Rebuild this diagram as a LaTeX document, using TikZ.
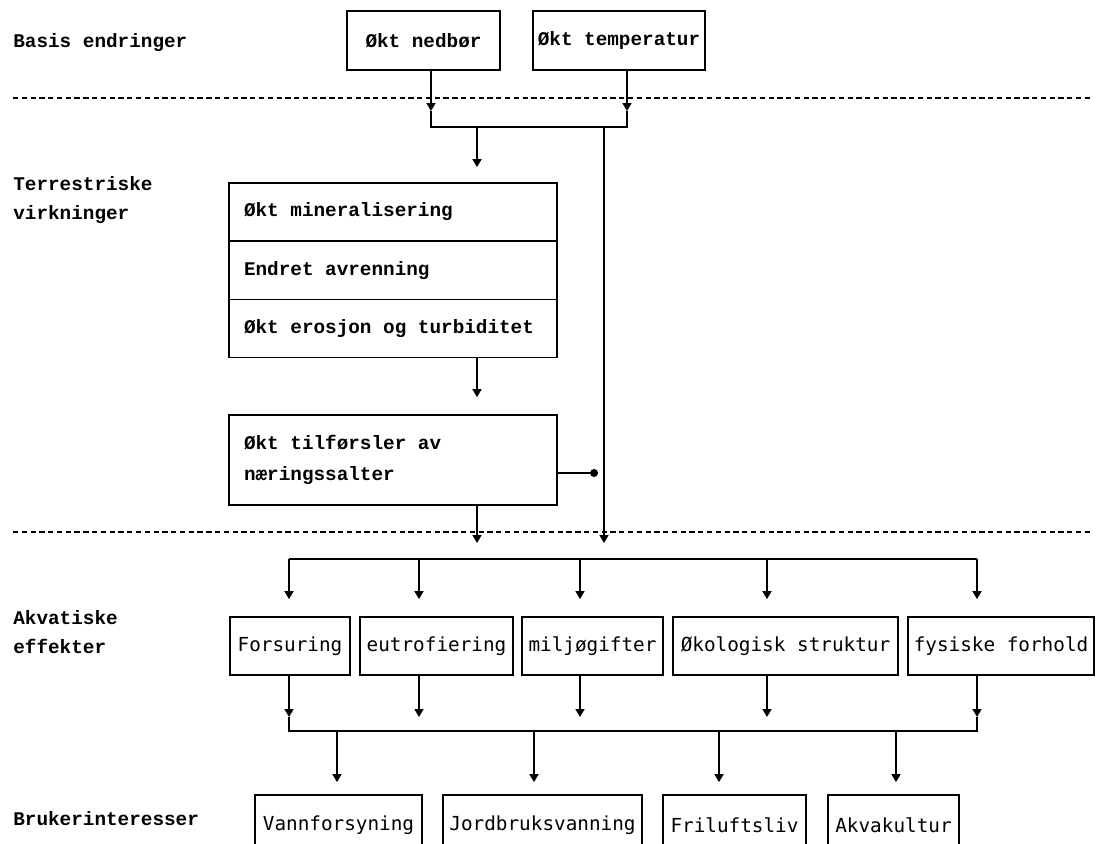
\documentclass[tikz,border=0pt]{standalone}
\usepackage{fontspec}
\setmainfont{Liberation Mono}
\newfontfamily\akvfont{DejaVu Sans Mono}
\usepackage{tikz}
\usetikzlibrary{arrows.meta}
\newcommand\diagfont{\fontsize{11}{18}\selectfont}

\begin{document}
\begin{tikzpicture}[x=0.02cm,y=-0.02cm,
  box/.style={draw,line width=1pt,minimum height=1.18cm,inner sep=0pt,font=\diagfont\bfseries},
  rowbox/.style={draw,line width=1pt,minimum height=1.16cm,text width=5.96cm,inner xsep=0.3cm,inner ysep=0pt,align=flush left,font=\diagfont\bfseries},
  akvbox/.style={draw,line width=1pt,minimum height=1.16cm,inner sep=0pt,font=\diagfont\akvfont},
  lab/.style={anchor=west,align=left,inner sep=0pt,font=\fontsize{11}{16.5}\selectfont\bfseries},
  arr/.style={line width=1.2pt,-{Triangle[length=4.5pt,width=5pt]}},
  ln/.style={line width=1.2pt},
  skille/.style={line width=0.6pt,dash pattern=on 3pt off 2pt}]

 \useasboundingbox (0,0) rectangle (1097,843);
 \clip (0,0) rectangle (1097,843);

 % labels at the left
 \node[lab] (basis) at (13,43) {Basis endringer};
 \node[lab] (terr) at (13,200) {Terrestriske\\virkninger};
 \node[lab] (akv) at (13,632) {Akvatiske\\effekter};
 \node[lab] (bruk) at (13,819) {Brukerinteresser};

 \draw[skille] (13,98) -- (1093,98);
 \draw[skille] (13,532) -- (1093,532);

 % basis
 \node[box,minimum width=3.06cm] (nedbor) at (423.5,40.5) {Økt nedbør};
 \node[box,minimum width=3.44cm] (temp) at (619,40.5) {Økt temperatur};

 \coordinate (t1) at (431,111);
 \coordinate (t2) at (627,111);
 \coordinate (j1) at (431,127);
 \coordinate (j2) at (627,127);
 \coordinate (j3) at (477,127);
 \coordinate (j4) at (604,127);
 \draw[arr] (nedbor.south -| t1) -- (t1);
 \draw[arr] (temp.south -| t2) -- (t2);
 \draw[ln] (t1) -- (j1) -- (j2) -- (t2);

 % terrestriske
 \node[rowbox] (miner) at (393,212) {Økt mineralisering};
 \node[rowbox] (avrenn) at (393,270.5) {Endret avrenning};
 \node[rowbox] (eros) at (393,328.5) {Økt erosjon og turbiditet};
 \node[rowbox,minimum height=1.8cm] (tilf) at (393,460) {Økt tilførsler av\\næringssalter};

 \draw[arr,shorten >=0.3cm] (j3) -- (j3 |- miner.north);
 \draw[arr,shorten >=0.34cm] (eros.south -| j3) -- (tilf.north -| j3);

 \coordinate (in1) at (477,543);
 \coordinate (in2) at (604,543);
 \coordinate (dot) at (598,473);
 \draw[arr] (tilf.south -| in1) -- (in1);
 \draw[arr] (j4) -- (in2);
 \draw[line width=0.8pt,-{Circle[length=4.5pt]}] (tilf.east |- dot) -- (dot);

 % akvatiske
 \node[akvbox,minimum width=2.4cm] (fors) at (290,646) {Forsuring};
 \node[akvbox,minimum width=3.06cm] (eutr) at (436.5,646) {eutrofiering};
 \node[akvbox,minimum width=2.82cm] (milj) at (592.5,646) {miljøgifter};
 \node[akvbox,minimum width=4.5cm] (okol) at (785.5,646) {Økologisk struktur};
 \node[akvbox,minimum width=3.72cm] (fys) at (1001,646) {fysiske forhold};

 \coordinate (d1) at (289,559);
 \coordinate (d2) at (419,559);
 \coordinate (d3) at (580,559);
 \coordinate (d4) at (767,559);
 \coordinate (d5) at (977,559);
 \draw[ln] (d1) -- (d5);
 \foreach \d/\b in {d1/fors,d2/eutr,d3/milj,d4/okol,d5/fys}
   \draw[arr,shorten >=0.34cm] (\d) -- (\d |- \b.north);

 \coordinate (u1) at (289,717);
 \coordinate (u2) at (419,717);
 \coordinate (u3) at (580,717);
 \coordinate (u4) at (767,717);
 \coordinate (u5) at (977,717);
 \foreach \u/\b in {u1/fors,u2/eutr,u3/milj,u4/okol,u5/fys}
   \draw[arr] (\b.south -| \u) -- (\u);
 \coordinate (s1) at (289,731);
 \coordinate (s5) at (977,731);
 \draw[ln] (u1) -- (s1) -- (s5) -- (u5);

 % brukerinteresser
 \node[akvbox,minimum width=3.34cm,minimum height=1.2cm] (vann) at (338.5,825) {Vannforsyning};
 \node[akvbox,minimum width=3.98cm,minimum height=1.2cm] (jord) at (542.5,825) {Jordbruksvanning};
 \node[akvbox,minimum width=2.86cm,minimum height=1.2cm] (fril) at (734.5,825) {Friluftsliv};
 \node[akvbox,minimum width=2.62cm,minimum height=1.2cm] (akva) at (893.5,825) {Akvakultur};

 \coordinate (b1) at (337,731);
 \coordinate (b2) at (534,731);
 \coordinate (b3) at (719,731);
 \coordinate (b4) at (896,731);
 \foreach \c/\b in {b1/vann,b2/jord,b3/fril,b4/akva}
   \draw[arr,shorten >=0.24cm] (\c) -- (\c |- \b.north);
\end{tikzpicture}
\end{document}
